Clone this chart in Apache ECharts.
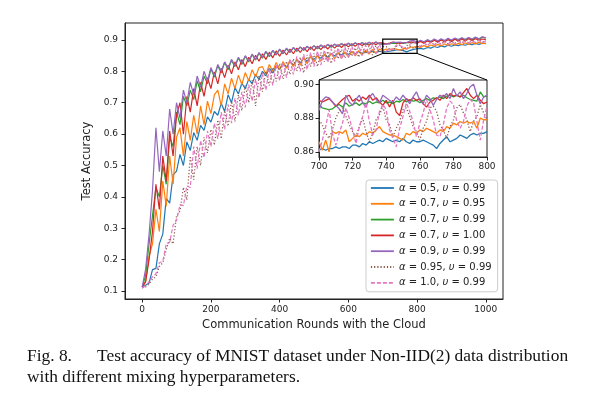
<!DOCTYPE html>
<html>
<head>
<meta charset="utf-8">
<script src="https://cdn.jsdelivr.net/npm/echarts@6.0.0/dist/echarts.min.js"></script>
<style>
  html, body { margin: 0; padding: 0; background: #fff; }
  #chart { width: 591px; height: 399px; }
</style>
</head>
<body>
<div id="chart"></div>
<script>
// Test accuracy vs communication rounds, MNIST Non-IID(2)

const NAMES = [
  'α = 0.5, υ = 0.99',
  'α = 0.7, υ = 0.95',
  'α = 0.7, υ = 0.99',
  'α = 0.7, υ = 1.00',
  'α = 0.9, υ = 0.99',
  'α = 0.95, υ = 0.99',
  'α = 1.0, υ = 0.99'
]
const X_TICKS = [0, 200, 400, 600, 800, 1000]
const Y_TICKS = [0.1, 0.2, 0.3, 0.4, 0.5, 0.6, 0.7, 0.8, 0.9]
const INSET_Y_TICKS = [0.86, 0.88, 0.90]
const ZOOM_X = [700, 800]
const ZOOM_Y = [0.857, 0.9025]

// main curves, sampled every 10 rounds (0 .. 1000)
const accA05 = [
  0.11, 0.118, 0.125, 0.168, 0.172, 0.25, 0.282, 0.395, 0.38, 0.47,
  0.482, 0.535, 0.5, 0.575, 0.548, 0.605, 0.58, 0.628, 0.612, 0.655,
  0.638, 0.672, 0.66, 0.698, 0.672, 0.725, 0.7, 0.748, 0.728, 0.762,
  0.745, 0.775, 0.76, 0.79, 0.774, 0.8, 0.786, 0.81, 0.795, 0.818,
  0.806, 0.824, 0.812, 0.832, 0.82, 0.836, 0.826, 0.842, 0.832, 0.846,
  0.838, 0.849, 0.842, 0.853, 0.845, 0.856, 0.849, 0.858, 0.852, 0.86,
  0.854, 0.862, 0.856, 0.863, 0.857, 0.864, 0.858, 0.865, 0.859, 0.864,
  0.861, 0.863, 0.864, 0.866, 0.868, 0.868, 0.866, 0.862, 0.867, 0.87,
  0.872, 0.873, 0.871, 0.876, 0.874, 0.879, 0.876, 0.881, 0.878, 0.883,
  0.88, 0.884, 0.882, 0.886, 0.883, 0.887, 0.885, 0.889, 0.886, 0.89,
  0.888
]
const accA07U095 = [
  0.112, 0.13, 0.21, 0.25, 0.36, 0.29, 0.45, 0.37, 0.53, 0.44,
  0.59, 0.62, 0.53, 0.64, 0.58, 0.66, 0.6, 0.69, 0.63, 0.705,
  0.665, 0.725, 0.74, 0.69, 0.76, 0.728, 0.778, 0.745, 0.788, 0.758,
  0.796, 0.77, 0.805, 0.782, 0.812, 0.815, 0.79, 0.822, 0.8, 0.828,
  0.806, 0.831, 0.81, 0.836, 0.815, 0.84, 0.82, 0.845, 0.824, 0.848,
  0.83, 0.851, 0.832, 0.855, 0.836, 0.857, 0.84, 0.86, 0.842, 0.862,
  0.846, 0.864, 0.849, 0.866, 0.852, 0.868, 0.855, 0.87, 0.858, 0.871,
  0.866, 0.871, 0.868, 0.872, 0.871, 0.867, 0.873, 0.871, 0.877, 0.877,
  0.879, 0.876, 0.882, 0.878, 0.884, 0.88, 0.886, 0.881, 0.887, 0.883,
  0.888, 0.884, 0.889, 0.885, 0.891, 0.886, 0.892, 0.887, 0.893, 0.888,
  0.89
]
const accA07U099 = [
  0.112, 0.15, 0.25, 0.34, 0.43, 0.4, 0.5, 0.44, 0.59, 0.56,
  0.67, 0.63, 0.72, 0.69, 0.74, 0.71, 0.77, 0.735, 0.785, 0.76,
  0.808, 0.782, 0.818, 0.795, 0.828, 0.805, 0.835, 0.815, 0.842, 0.822,
  0.848, 0.83, 0.853, 0.836, 0.858, 0.842, 0.862, 0.847, 0.866, 0.852,
  0.869, 0.856, 0.872, 0.86, 0.875, 0.864, 0.877, 0.867, 0.879, 0.87,
  0.881, 0.872, 0.883, 0.875, 0.885, 0.877, 0.886, 0.879, 0.888, 0.881,
  0.889, 0.882, 0.89, 0.884, 0.891, 0.885, 0.892, 0.886, 0.892, 0.887,
  0.888, 0.887, 0.888, 0.89, 0.889, 0.891, 0.889, 0.8915, 0.8925, 0.891,
  0.893, 0.896, 0.892, 0.898, 0.894, 0.9, 0.895, 0.901, 0.896, 0.903,
  0.898, 0.904, 0.899, 0.906, 0.9, 0.907, 0.901, 0.908, 0.902, 0.909,
  0.906
]
const accA07U100 = [
  0.112, 0.13, 0.2, 0.29, 0.44, 0.36, 0.53, 0.45, 0.61, 0.53,
  0.66, 0.7, 0.6, 0.72, 0.67, 0.745, 0.69, 0.765, 0.72, 0.78,
  0.745, 0.798, 0.76, 0.81, 0.78, 0.82, 0.792, 0.83, 0.805, 0.838,
  0.815, 0.845, 0.824, 0.851, 0.832, 0.856, 0.838, 0.861, 0.843, 0.865,
  0.848, 0.868, 0.852, 0.871, 0.856, 0.874, 0.86, 0.876, 0.863, 0.878,
  0.866, 0.88, 0.869, 0.882, 0.871, 0.884, 0.874, 0.885, 0.876, 0.887,
  0.878, 0.888, 0.88, 0.889, 0.882, 0.89, 0.883, 0.891, 0.885, 0.891,
  0.8905, 0.887, 0.89, 0.8935, 0.8905, 0.889, 0.8915, 0.892, 0.893, 0.8935,
  0.8895, 0.895, 0.89, 0.897, 0.892, 0.899, 0.893, 0.9, 0.894, 0.901,
  0.895, 0.902, 0.896, 0.903, 0.897, 0.904, 0.898, 0.904, 0.899, 0.903,
  0.901
]
const accA09 = [
  0.112, 0.17, 0.28, 0.42, 0.62, 0.48, 0.61, 0.53, 0.68, 0.6,
  0.7, 0.65, 0.74, 0.7, 0.765, 0.725, 0.785, 0.75, 0.8, 0.77,
  0.812, 0.785, 0.822, 0.8, 0.83, 0.81, 0.838, 0.818, 0.845, 0.826,
  0.85, 0.833, 0.855, 0.838, 0.86, 0.845, 0.864, 0.849, 0.867, 0.853,
  0.871, 0.857, 0.874, 0.861, 0.876, 0.865, 0.878, 0.868, 0.88, 0.871,
  0.882, 0.873, 0.884, 0.876, 0.886, 0.878, 0.887, 0.88, 0.889, 0.882,
  0.89, 0.883, 0.891, 0.885, 0.892, 0.886, 0.893, 0.887, 0.894, 0.888,
  0.8845, 0.8875, 0.8875, 0.8925, 0.892, 0.8935, 0.8905, 0.891, 0.8975, 0.8985,
  0.893, 0.899, 0.894, 0.901, 0.896, 0.903, 0.897, 0.904, 0.898, 0.905,
  0.9, 0.906, 0.901, 0.907, 0.902, 0.908, 0.903, 0.909, 0.904, 0.91,
  0.907
]
const accA095 = [
  0.11, 0.113, 0.122, 0.138, 0.145, 0.178, 0.19, 0.232, 0.268, 0.25,
  0.34, 0.355, 0.43, 0.39, 0.53, 0.455, 0.56, 0.5, 0.59, 0.54,
  0.615, 0.565, 0.645, 0.585, 0.675, 0.625, 0.705, 0.64, 0.725, 0.675,
  0.755, 0.7, 0.772, 0.69, 0.788, 0.735, 0.8, 0.755, 0.812, 0.768,
  0.825, 0.775, 0.832, 0.79, 0.84, 0.8, 0.845, 0.795, 0.852, 0.815,
  0.857, 0.815, 0.86, 0.83, 0.864, 0.825, 0.867, 0.84, 0.87, 0.842,
  0.873, 0.848, 0.875, 0.845, 0.878, 0.855, 0.88, 0.852, 0.882, 0.86,
  0.879, 0.879, 0.871, 0.867, 0.88, 0.884, 0.868, 0.883, 0.88, 0.873,
  0.879, 0.878, 0.891, 0.882, 0.893, 0.884, 0.894, 0.886, 0.896, 0.888,
  0.897, 0.889, 0.898, 0.89, 0.899, 0.891, 0.9, 0.892, 0.901, 0.893,
  0.898
]
const accA10 = [
  0.11, 0.116, 0.13, 0.145, 0.155, 0.19, 0.195, 0.25, 0.255, 0.31,
  0.325, 0.375, 0.372, 0.435, 0.43, 0.56, 0.49, 0.58, 0.525, 0.61,
  0.56, 0.635, 0.585, 0.67, 0.615, 0.695, 0.635, 0.715, 0.66, 0.735,
  0.685, 0.758, 0.705, 0.775, 0.715, 0.795, 0.74, 0.81, 0.755, 0.82,
  0.77, 0.83, 0.78, 0.84, 0.79, 0.848, 0.8, 0.855, 0.805, 0.86,
  0.815, 0.865, 0.82, 0.868, 0.828, 0.872, 0.832, 0.875, 0.838, 0.878,
  0.842, 0.88, 0.848, 0.882, 0.85, 0.884, 0.854, 0.885, 0.856, 0.887,
  0.86, 0.864, 0.872, 0.869, 0.884, 0.882, 0.876, 0.871, 0.887, 0.892,
  0.887, 0.879, 0.89, 0.883, 0.892, 0.884, 0.893, 0.886, 0.894, 0.887,
  0.895, 0.888, 0.896, 0.889, 0.897, 0.89, 0.898, 0.891, 0.899, 0.892,
  0.897
]

// inset, every 2 rounds (700 .. 800)
const insA05 = [
  0.861, 0.862, 0.861, 0.862, 0.862, 0.863, 0.862, 0.863, 0.863, 0.862,
  0.864, 0.864, 0.863, 0.865, 0.864, 0.866, 0.865, 0.866, 0.867, 0.866,
  0.868, 0.867, 0.866, 0.867, 0.866, 0.868, 0.866, 0.865, 0.867, 0.866,
  0.866, 0.867, 0.866, 0.865, 0.864, 0.862, 0.865, 0.867, 0.869, 0.866,
  0.867, 0.868, 0.87, 0.869, 0.868, 0.87, 0.871, 0.87, 0.871, 0.871,
  0.872
]
const insA07U095 = [
  0.866, 0.861, 0.867, 0.86, 0.872, 0.871, 0.872, 0.871, 0.873, 0.866,
  0.868, 0.87, 0.869, 0.871, 0.87, 0.872, 0.871, 0.873, 0.875, 0.872,
  0.871, 0.87, 0.87, 0.869, 0.868, 0.867, 0.871, 0.87, 0.872, 0.871,
  0.873, 0.872, 0.874, 0.873, 0.872, 0.871, 0.873, 0.872, 0.875, 0.874,
  0.877, 0.876, 0.878, 0.877, 0.878, 0.877, 0.878, 0.874, 0.88, 0.879,
  0.879
]
const insA07U099 = [
  0.888, 0.886, 0.8855, 0.885, 0.8855, 0.887, 0.888, 0.8865, 0.889, 0.887,
  0.888, 0.889, 0.8875, 0.889, 0.8885, 0.89, 0.8885, 0.8895, 0.889, 0.8905,
  0.889, 0.8895, 0.8885, 0.89, 0.8895, 0.891, 0.8895, 0.891, 0.89, 0.8905,
  0.889, 0.8905, 0.8915, 0.8905, 0.892, 0.8915, 0.8925, 0.8915, 0.893, 0.8935,
  0.8925, 0.8935, 0.8925, 0.8935, 0.892, 0.891, 0.8905, 0.89, 0.8955, 0.8925,
  0.893
]
const insA07U100 = [
  0.8905, 0.8895, 0.8905, 0.8915, 0.8895, 0.887, 0.889, 0.891, 0.8925, 0.8935,
  0.89, 0.8915, 0.89, 0.8925, 0.891, 0.8935, 0.8905, 0.892, 0.8895, 0.8875,
  0.8905, 0.8865, 0.8905, 0.8835, 0.8815, 0.889, 0.8915, 0.89, 0.892, 0.8905,
  0.8915, 0.8885, 0.8865, 0.8895, 0.8905, 0.892, 0.8905, 0.8935, 0.8915, 0.8945,
  0.893, 0.8935, 0.8925, 0.895, 0.8975, 0.8935, 0.8915, 0.8935, 0.8905, 0.8885,
  0.8895
]
const insA09 = [
  0.8845, 0.8905, 0.8925, 0.892, 0.8895, 0.8875, 0.8855, 0.8825, 0.8935, 0.8895,
  0.8875, 0.891, 0.8935, 0.889, 0.8865, 0.8925, 0.8945, 0.891, 0.889, 0.8935,
  0.892, 0.8905, 0.8895, 0.8925, 0.8905, 0.8935, 0.891, 0.8885, 0.8925, 0.8955,
  0.8905, 0.8885, 0.8935, 0.8915, 0.8875, 0.891, 0.8935, 0.8925, 0.8945, 0.8915,
  0.8975, 0.893, 0.8955, 0.8915, 0.8945, 0.8985, 0.9, 0.8935, 0.8885, 0.8925,
  0.8935
]
const insA095 = [
  0.879, 0.876, 0.871, 0.868, 0.873, 0.88, 0.884, 0.886, 0.881, 0.876,
  0.872, 0.869, 0.875, 0.88, 0.872, 0.866, 0.871, 0.879, 0.882, 0.887,
  0.879, 0.876, 0.869, 0.874, 0.878, 0.885, 0.886, 0.881, 0.875, 0.872,
  0.867, 0.874, 0.878, 0.886, 0.887, 0.884, 0.876, 0.873, 0.868, 0.875,
  0.879, 0.886, 0.888, 0.883, 0.879, 0.872, 0.878, 0.881, 0.888, 0.883,
  0.879
]
const insA10 = [
  0.86, 0.867, 0.875, 0.885, 0.871, 0.864, 0.871, 0.877, 0.886, 0.88,
  0.873, 0.865, 0.875, 0.881, 0.889, 0.878, 0.87, 0.873, 0.884, 0.888,
  0.885, 0.873, 0.868, 0.863, 0.874, 0.881, 0.889, 0.884, 0.878, 0.869,
  0.877, 0.883, 0.891, 0.885, 0.879, 0.87, 0.869, 0.876, 0.886, 0.89,
  0.888, 0.878, 0.874, 0.878, 0.887, 0.891, 0.889, 0.878, 0.867, 0.879,
  0.887
]

const COLORS = ['#1f77b4', '#ff7f0e', '#2ca02c', '#d62728', '#9467bd', '#8c564b', '#e377c2']
const DASH = ['solid', 'solid', 'solid', 'solid', 'solid', [1.2, 2], [4, 2]]
const MAIN = [accA05, accA07U095, accA07U099, accA07U100, accA09, accA095, accA10]
const INSET = [insA05, insA07U095, insA07U099, insA07U100, insA09, insA095, insA10]

const FONT = '"DejaVu Sans", sans-serif'
const AX = '#222'

function pairs(vals, start, step) {
  return vals.map((v, i) => [start + i * step, v])
}

const series = []
MAIN.forEach((vals, k) => {
  series.push({
    name: NAMES[k], type: 'line', xAxisIndex: 0, yAxisIndex: 0,
    data: pairs(vals, 0, 10), symbol: 'none', color: COLORS[k],
    lineStyle: { width: 1.2, type: DASH[k] }, z: 2, animation: false
  })
})
INSET.forEach((vals, k) => {
  series.push({
    name: NAMES[k], type: 'line', xAxisIndex: 1, yAxisIndex: 1,
    data: pairs(vals, ZOOM_X[0], 2), symbol: 'none', color: COLORS[k],
    lineStyle: { width: 1.3, type: DASH[k] }, z: 8, animation: false
  })
})

function richName(name) {
  return name.replace('α', '{i|α}').replace('υ', '{i|υ}')
}

const tickLabel = { fontSize: 9, color: AX, fontFamily: FONT }

const chart = echarts.init(document.getElementById('chart'))
chart.setOption({
  animation: false,
  backgroundColor: '#fff',
  grid: [
    { left: 125, top: 23, width: 378, height: 276, show: true, borderColor: AX, borderWidth: 1 },
    { left: 319, top: 80, width: 168, height: 77, show: true, borderColor: AX, borderWidth: 1,
      backgroundColor: '#fff', z: 6 }
  ],
  xAxis: [
    {
      type: 'value', gridIndex: 0, min: -50, max: 1050,
      name: 'Communication Rounds with the Cloud', nameLocation: 'middle', nameGap: 19,
      nameTextStyle: { fontSize: 11.5, color: AX, fontFamily: FONT },
      axisLine: { show: true, onZero: false, lineStyle: { color: AX } },
      axisTick: { show: true, length: 3.5, lineStyle: { color: AX }, customValues: X_TICKS },
      axisLabel: Object.assign({ margin: 6, customValues: X_TICKS, formatter: v => String(v) }, tickLabel),
      splitLine: { show: false }
    },
    {
      type: 'value', gridIndex: 1, min: ZOOM_X[0], max: ZOOM_X[1], interval: 20, z: 7,
      axisLine: { show: true, onZero: false, lineStyle: { color: AX } },
      axisTick: { show: true, length: 3.5, lineStyle: { color: AX } },
      axisLabel: Object.assign({ margin: 5, formatter: v => String(v) }, tickLabel),
      splitLine: { show: false }
    }
  ],
  yAxis: [
    {
      type: 'value', gridIndex: 0, min: 0.0745, max: 0.954,
      name: 'Test Accuracy', nameLocation: 'middle', nameGap: 27,
      nameTextStyle: { fontSize: 11.5, color: AX, fontFamily: FONT },
      axisLine: { show: true, onZero: false, lineStyle: { color: AX } },
      axisTick: { show: true, length: 3.5, lineStyle: { color: AX }, customValues: Y_TICKS },
      axisLabel: Object.assign({ margin: 7, customValues: Y_TICKS, formatter: v => v.toFixed(1) }, tickLabel),
      splitLine: { show: false }
    },
    {
      type: 'value', gridIndex: 1, min: ZOOM_Y[0], max: ZOOM_Y[1], z: 7,
      axisLine: { show: true, onZero: false, lineStyle: { color: AX } },
      axisTick: { show: true, length: 3.5, lineStyle: { color: AX }, customValues: INSET_Y_TICKS },
      axisLabel: Object.assign({ margin: 5, customValues: INSET_Y_TICKS, formatter: v => v.toFixed(2) }, tickLabel),
      splitLine: { show: false }
    }
  ],
  legend: {
    data: NAMES, orient: 'vertical', left: 366, top: 180,
    itemWidth: 23, itemHeight: 12, itemGap: 3.8,
    padding: [2, 6, 3, 4],
    borderColor: '#cccccc', borderWidth: 1, borderRadius: 3,
    backgroundColor: 'rgba(255,255,255,0.8)',
    itemStyle: { opacity: 0 },
    lineStyle: { width: 1.8 },
    formatter: richName,
    textStyle: {
      fontSize: 10, color: AX, fontFamily: FONT, lineHeight: 12,
      rich: { i: { fontStyle: 'italic', fontSize: 10, fontFamily: FONT, lineHeight: 12, color: AX } }
    }
  },
  series: series
})

// zoom indicator + caption, positioned through the axes
const bl = chart.convertToPixel({ gridIndex: 0 }, [ZOOM_X[0], ZOOM_Y[0]])
const tr = chart.convertToPixel({ gridIndex: 0 }, [ZOOM_X[1], ZOOM_Y[1]])
const insL = chart.convertToPixel({ gridIndex: 1 }, [ZOOM_X[0], ZOOM_Y[1]])
const insR = chart.convertToPixel({ gridIndex: 1 }, [ZOOM_X[1], ZOOM_Y[1]])

const CAP_FONT = '17.4px "Liberation Serif", "Times New Roman", serif'
chart.setOption({
  graphic: [
    { type: 'rect', z: 20, shape: { x: bl[0], y: tr[1], width: tr[0] - bl[0], height: bl[1] - tr[1] },
      style: { fill: 'none', stroke: '#000', lineWidth: 1.2 } },
    { type: 'line', z: 20, shape: { x1: bl[0], y1: bl[1], x2: insL[0], y2: insL[1] },
      style: { stroke: '#000', lineWidth: 1 } },
    { type: 'line', z: 20, shape: { x1: tr[0], y1: bl[1], x2: insR[0], y2: insR[1] },
      style: { stroke: '#000', lineWidth: 1 } },
    { type: 'text', x: 27, y: 348, style: { text: 'Fig. 8.', font: CAP_FONT, fill: '#111' } },
    { type: 'text', x: 97, y: 348, style: { text: 'Test accuracy of MNIST dataset under Non-IID(2) data distribution', font: CAP_FONT, fill: '#111' } },
    { type: 'text', x: 27, y: 369, style: { text: 'with different mixing hyperparameters.', font: CAP_FONT, fill: '#111' } }
  ]
})
</script>
</body>
</html>
